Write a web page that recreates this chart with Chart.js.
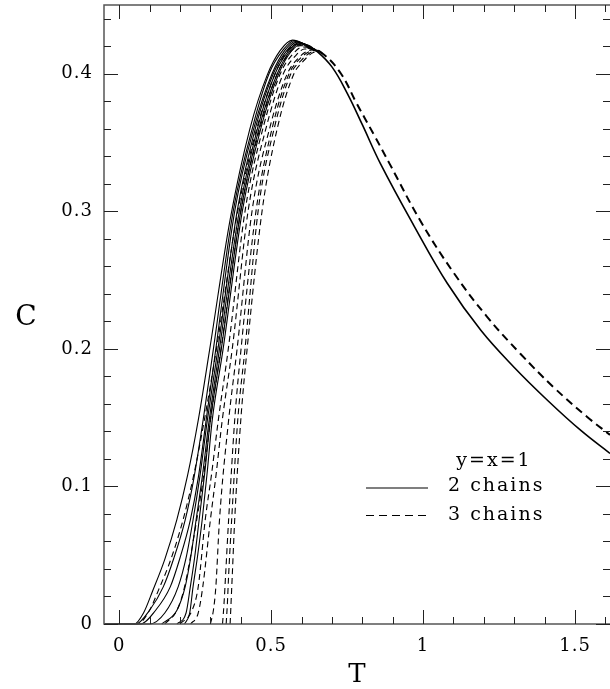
<!DOCTYPE html>
<html>
<head>
<meta charset="utf-8">
<script src="https://cdn.jsdelivr.net/npm/chart.js@4.4.1/dist/chart.umd.min.js"></script>
<style>
  html, body { margin: 0; padding: 0; background: #fff; }
  canvas { display: block; }
</style>
</head>
<body>
<canvas id="myChart" width="610" height="689"></canvas>
<script>
// axis ranges and ticks
var xRange = [-0.05, 1.615];
var yRange = [0, 0.45];
var xMajor = [0, 0.5, 1, 1.5];
var xLabels = ["0", "0.5", "1", "1.5"];
var xMinor = [0.1, 0.2, 0.3, 0.4, 0.6, 0.7, 0.8, 0.9, 1.1, 1.2, 1.3, 1.4, 1.6];
var yMajor = [0, 0.1, 0.2, 0.3, 0.4];
var yLabels = ["0", "0.1", "0.2", "0.3", "0.4"];
var yMinor = [0.02, 0.04, 0.06, 0.08, 0.12, 0.14, 0.16, 0.18, 0.22, 0.24, 0.26, 0.28,
              0.32, 0.34, 0.36, 0.38, 0.42, 0.44];

// 2 chains (solid) - rising branches, [T, C]
var solid1 = [[-0.05,0],[0.05,0],[0.08,0.008],[0.11,0.024],[0.15,0.047],[0.19,0.076],[0.225,0.108],[0.26,0.148],[0.298,0.2],[0.365,0.294],[0.43,0.36],[0.487,0.399],[0.53,0.417],[0.57,0.4245],[0.62,0.4205],[0.65,0.4165]];
var solid2 = [[-0.05,0],[0.055,0],[0.1,0.01],[0.145,0.027],[0.18,0.048],[0.217,0.0756],[0.245,0.105],[0.276,0.148],[0.31,0.2],[0.375,0.3],[0.44,0.362],[0.493,0.4],[0.54,0.4175],[0.575,0.424],[0.62,0.4205],[0.65,0.4165]];
var solid3 = [[-0.05,0],[0.07,0],[0.12,0.01],[0.168,0.027],[0.20,0.048],[0.234,0.0756],[0.26,0.106],[0.286,0.148],[0.318,0.2],[0.38,0.3],[0.445,0.362],[0.503,0.4],[0.545,0.417],[0.58,0.4235],[0.62,0.4205],[0.65,0.4165]];
var solid4 = [[-0.05,0],[0.10,0],[0.15,0.008],[0.194,0.027],[0.22,0.048],[0.243,0.0756],[0.266,0.108],[0.29,0.148],[0.325,0.2],[0.388,0.3],[0.45,0.362],[0.507,0.4],[0.55,0.4165],[0.585,0.423],[0.62,0.4205],[0.65,0.4165]];
var solid5 = [[0.14,0],[0.19,0.01],[0.217,0.027],[0.235,0.048],[0.253,0.0756],[0.274,0.108],[0.296,0.148],[0.33,0.2],[0.395,0.3],[0.457,0.362],[0.513,0.4],[0.555,0.416],[0.59,0.4225],[0.62,0.4205],[0.65,0.4165]];
var solid6 = [[0.19,0],[0.22,0.008],[0.234,0.027],[0.248,0.048],[0.263,0.0756],[0.281,0.109],[0.30,0.148],[0.336,0.2],[0.40,0.3],[0.462,0.362],[0.52,0.4],[0.56,0.416],[0.595,0.422],[0.625,0.4205],[0.65,0.4165]];
var solid7 = [[0.215,0],[0.232,0.008],[0.243,0.027],[0.257,0.048],[0.273,0.0756],[0.289,0.109],[0.306,0.148],[0.342,0.2],[0.405,0.3],[0.468,0.362],[0.525,0.4],[0.565,0.416],[0.6,0.4215],[0.65,0.4165]];
// common high-T branch
var solidTail = [[0.62,0.4202],[0.65,0.4165],[0.70,0.405],[0.75,0.386],[0.80,0.363],[0.86,0.3345],[0.97,0.2895],[1.08,0.2475],[1.19,0.2135],[1.30,0.1865],[1.41,0.1625],[1.52,0.1405],[1.615,0.124]];

// 3 chains (dashed)
var dashed1 = [[-0.05,0],[0.06,0],[0.10,0.01],[0.13,0.025],[0.17,0.047],[0.21,0.0756],[0.245,0.108],[0.28,0.148],[0.32,0.2],[0.39,0.3],[0.455,0.362],[0.513,0.4],[0.55,0.4155],[0.585,0.4215],[0.62,0.4195],[0.66,0.4155]];
var dashed2 = [[0.15,0],[0.19,0.01],[0.215,0.027],[0.255,0.0756],[0.278,0.108],[0.30,0.148],[0.335,0.2],[0.40,0.3],[0.465,0.362],[0.52,0.4],[0.56,0.415],[0.595,0.4205],[0.63,0.419],[0.66,0.4155]];
var dashed3 = [[0.20,0],[0.24,0.01],[0.26,0.027],[0.283,0.0756],[0.304,0.109],[0.326,0.148],[0.359,0.2],[0.414,0.3],[0.475,0.362],[0.53,0.4],[0.57,0.414],[0.605,0.4195],[0.635,0.4185],[0.66,0.4155]];
var dashed4 = [[0.235,0],[0.26,0.008],[0.275,0.027],[0.30,0.0756],[0.319,0.109],[0.339,0.148],[0.372,0.2],[0.424,0.3],[0.485,0.362],[0.54,0.4],[0.58,0.413],[0.61,0.418],[0.64,0.418],[0.67,0.4145]];
var dashed5 = [[0.30,0],[0.31,0.01],[0.318,0.027],[0.33,0.0756],[0.36,0.148],[0.388,0.2],[0.437,0.3],[0.497,0.362],[0.553,0.4],[0.59,0.4115],[0.62,0.4165],[0.65,0.4175],[0.67,0.4145]];
var dashed6 = [[0.34,0],[0.345,0.015],[0.35,0.035],[0.36,0.0756],[0.38,0.148],[0.401,0.2],[0.45,0.3],[0.505,0.362],[0.559,0.4],[0.595,0.411],[0.625,0.416],[0.65,0.417],[0.67,0.4145]];
var dashed7 = [[0.352,0],[0.356,0.015],[0.36,0.035],[0.37,0.0756],[0.39,0.148],[0.414,0.2],[0.457,0.3],[0.512,0.362],[0.565,0.4],[0.60,0.41],[0.63,0.4155],[0.655,0.417],[0.67,0.4145]];
var dashed8 = [[0.365,0],[0.368,0.015],[0.372,0.035],[0.38,0.0756],[0.40,0.148],[0.421,0.2],[0.47,0.3],[0.522,0.362],[0.575,0.4],[0.605,0.409],[0.635,0.415],[0.66,0.4165],[0.67,0.4145]];
var dashedTail = [[0.62,0.419],[0.67,0.4145],[0.73,0.400],[0.78,0.379],[0.84,0.355],[0.89,0.3345],[0.99,0.2935],[1.10,0.2555],[1.21,0.2235],[1.32,0.1965],[1.43,0.172],[1.54,0.1505],[1.615,0.1375]];

var legendTitle = "y=x=1";
var legendNames = ["2 chains", "3 chains"];

var FONT = "'DejaVu Serif', serif";

function pts(arr) {
    return arr.map(function(p){ return {x: p[0], y: p[1]}; });
}

function line(arr, dashed, width, smooth) {
    var ds = {
        data: pts(arr),
        borderColor: "#000",
        borderWidth: width,
        borderDash: dashed ? (width > 1.5 ? [8, 5] : [6, 4]) : [],
        pointRadius: 0,
        fill: false,
        clip: 3
    };
    if (smooth) ds.tension = 0.4;
    else ds.cubicInterpolationMode = "monotone";
    return ds;
}

var datasets = [];
[solid1, solid2, solid3, solid4, solid5, solid6, solid7].forEach(function(s){
    datasets.push(line(s, false, 1.1));
});
datasets.push(line(solidTail, false, 1.6, true));
[dashed1, dashed2, dashed3, dashed4, dashed5, dashed6, dashed7, dashed8].forEach(function(s){
    datasets.push(line(s, true, 1.1));
});
datasets.push(line(dashedTail, true, 2, true));

// frame, inward ticks, labels and legend
var framePlugin = {
    id: "frame",
    afterDraw: function(chart) {
        var ctx = chart.ctx, a = chart.chartArea;
        var xs = chart.scales.x, ys = chart.scales.y;
        ctx.save();
        ctx.strokeStyle = "#555";
        ctx.lineWidth = 1.5;
        ctx.beginPath();
        ctx.moveTo(a.right, a.top);
        ctx.lineTo(a.left, a.top);
        ctx.lineTo(a.left, a.bottom);
        ctx.lineTo(a.right, a.bottom);
        ctx.stroke();

        ctx.strokeStyle = "#222";
        ctx.lineWidth = 1;
        function xt(v, len) {
            var px = Math.round(xs.getPixelForValue(v)) + 0.5;
            ctx.beginPath();
            ctx.moveTo(px, a.bottom); ctx.lineTo(px, a.bottom - len);
            ctx.moveTo(px, a.top); ctx.lineTo(px, a.top + len);
            ctx.stroke();
        }
        function yt(v, len) {
            var py = Math.round(ys.getPixelForValue(v)) + 0.5;
            ctx.beginPath();
            ctx.moveTo(a.left, py); ctx.lineTo(a.left + len, py);
            ctx.moveTo(a.right, py); ctx.lineTo(a.right - len, py);
            ctx.stroke();
        }
        xMajor.forEach(function(v){ xt(v, 14); });
        xMinor.forEach(function(v){ xt(v, 7); });
        yMajor.forEach(function(v){ yt(v, 14); });
        yMinor.forEach(function(v){ yt(v, 7); });

        ctx.fillStyle = "#000";
        ctx.letterSpacing = "1px";
        ctx.font = "18px " + FONT;
        ctx.textAlign = "center";
        ctx.textBaseline = "middle";
        xMajor.forEach(function(v, i){
            ctx.fillText(xLabels[i], xs.getPixelForValue(v), a.bottom + 22);
        });
        ctx.textAlign = "right";
        yMajor.forEach(function(v, i){
            ctx.fillText(yLabels[i], a.left - 11, ys.getPixelForValue(v));
        });

        ctx.letterSpacing = "0px";
        ctx.font = "26px " + FONT;
        ctx.textAlign = "center";
        ctx.fillText("T", (a.left + a.right) / 2, 675);
        ctx.font = "28px " + FONT;
        ctx.fillText("C", 26, 318);

        // legend
        ctx.letterSpacing = "2px";
        ctx.font = "19px " + FONT;
        ctx.fillText(legendTitle, 494, 461);
        ctx.textAlign = "left";
        ctx.fillText(legendNames[0], 448, 486);
        ctx.fillText(legendNames[1], 448, 515);
        ctx.strokeStyle = "#000";
        ctx.lineWidth = 1.1;
        ctx.beginPath();
        ctx.moveTo(366, 488); ctx.lineTo(428, 488);
        ctx.stroke();
        ctx.setLineDash([8, 5]);
        ctx.beginPath();
        ctx.moveTo(366, 515.5); ctx.lineTo(428, 515.5);
        ctx.stroke();
        ctx.restore();
    }
};

var ctx = document.getElementById("myChart");

var myChart = new Chart(ctx, {
    type: "line",
    data: { datasets: datasets },
    options: {
        responsive: false,
        animation: false,
        layout: { padding: { left: 104, right: 0, top: 5, bottom: 65 } },
        plugins: { legend: { display: false }, tooltip: { enabled: false } },
        scales: {
            x: { type: "linear", min: xRange[0], max: xRange[1], display: false },
            y: { type: "linear", min: yRange[0], max: yRange[1], display: false }
        }
    },
    plugins: [framePlugin]
});
</script>
</body>
</html>
